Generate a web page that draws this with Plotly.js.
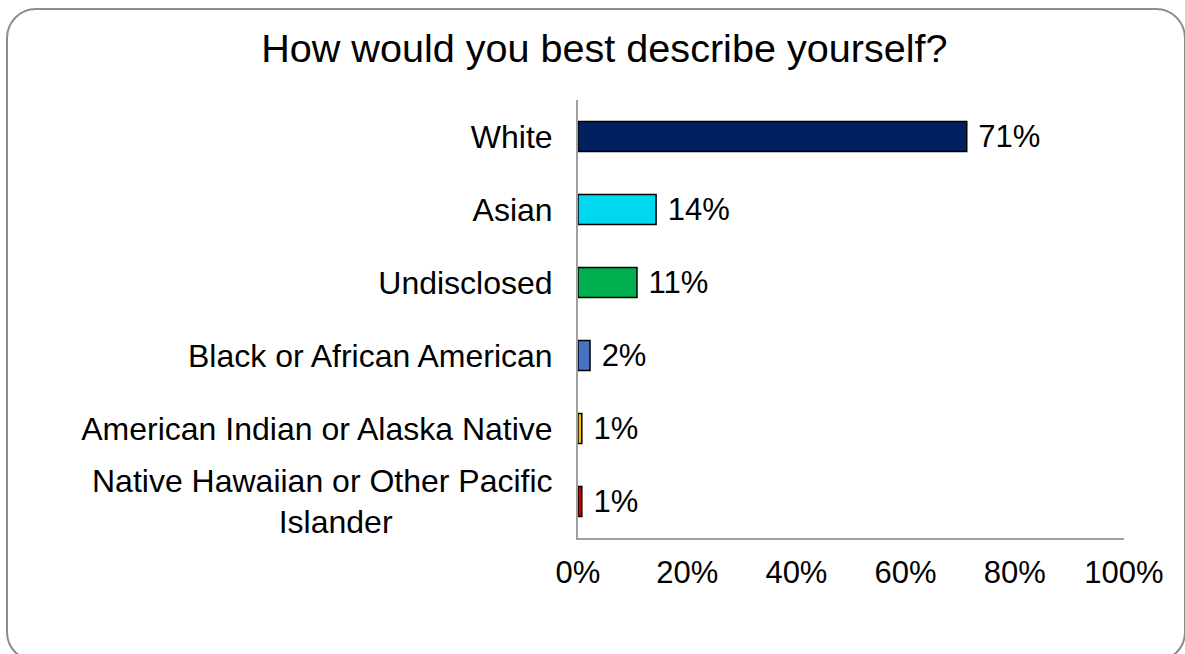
<!DOCTYPE html>
<html>
<head>
<meta charset="utf-8">
<script src="https://cdn.plot.ly/plotly-3.0.1.min.js"></script>
<style>
  html, body { margin: 0; padding: 0; background: #ffffff; }
  #frame {
    position: absolute; left: 6px; top: 8px; width: 1180px; height: 654px;
    border: 2px solid #8c8c8c; border-radius: 30px; box-sizing: border-box;
  }
  #chart { position: absolute; left: 0; top: 0; width: 1185px; height: 654px; }
</style>
</head>
<body>
<div id="frame"></div>
<div id="chart"></div>
<script>
// Data
const categories = [
  "White",
  "Asian",
  "Undisclosed",
  "Black or African American",
  "American Indian or Alaska Native",
  "Native Hawaiian or Other Pacific Islander"
];
const tickLabels = [
  "White",
  "Asian",
  "Undisclosed",
  "Black or African American",
  "American Indian or Alaska Native",
  "Native Hawaiian or Other Pacific<br>Islander"
];
const shares = [0.712, 0.143, 0.108, 0.022, 0.007, 0.007];
const barColors = ["#002060", "#00D8F0", "#00B050", "#4472C4", "#FFC000", "#CC0000"];
const xTickVals = [0, 0.2, 0.4, 0.6, 0.8, 1.0];
const xTickText = ["0%", "20%", "40%", "60%", "80%", "100%"];

// roughly centre the second line of the wrapped label (tick labels are right-aligned)
const NBSP = "\u00A0";
const displayTicks = tickLabels.map(t => t.includes("<br>") ? t + NBSP.repeat(18) : t);

const FONT = '"Liberation Sans", Arial, Helvetica, sans-serif';

const trace = {
  type: "bar",
  orientation: "h",
  x: shares,
  y: categories,
  marker: { color: barColors, line: { color: "#000000", width: 1.5 } },
  texttemplate: " %{x:.0%}",
  textposition: "outside",
  constraintext: "none",
  textfont: { family: FONT, size: 31, color: "#000000" },
  cliponaxis: false,
  hoverinfo: "skip"
};

const layout = {
  width: 1185,
  height: 654,
  paper_bgcolor: "rgba(0,0,0,0)",
  plot_bgcolor: "rgba(0,0,0,0)",
  margin: { l: 578, r: 61, t: 100, b: 116 },
  showlegend: false,
  bargap: 0.59,
  font: { family: FONT, color: "#000000" },
  title: {
    text: "How would you best describe yourself?",
    font: { family: FONT, size: 39.6, color: "#000000" },
    xref: "container", x: 0.51, xanchor: "center",
    yref: "container", y: 1 - 48 / 654, yanchor: "middle"
  },
  xaxis: {
    range: [0, 1],
    tickvals: xTickVals,
    ticktext: xTickText,
    showgrid: false,
    zeroline: false,
    showline: true,
    linecolor: "#a0a0a0",
    linewidth: 2,
    ticks: "",
    ticklabelstandoff: 6,
    tickfont: { family: FONT, size: 31, color: "#000000" },
    fixedrange: true
  },
  yaxis: {
    type: "category",
    categoryorder: "array",
    categoryarray: categories,
    autorange: "reversed",
    tickvals: categories,
    ticktext: displayTicks,
    showgrid: false,
    zeroline: false,
    showline: true,
    linecolor: "#a0a0a0",
    linewidth: 2,
    ticks: "",
    ticklabelstandoff: 17,
    tickfont: { family: FONT, size: 32, color: "#000000" },
    fixedrange: true
  }
};

Plotly.newPlot("chart", [trace], layout, { displayModeBar: false, staticPlot: true });
</script>
</body>
</html>
